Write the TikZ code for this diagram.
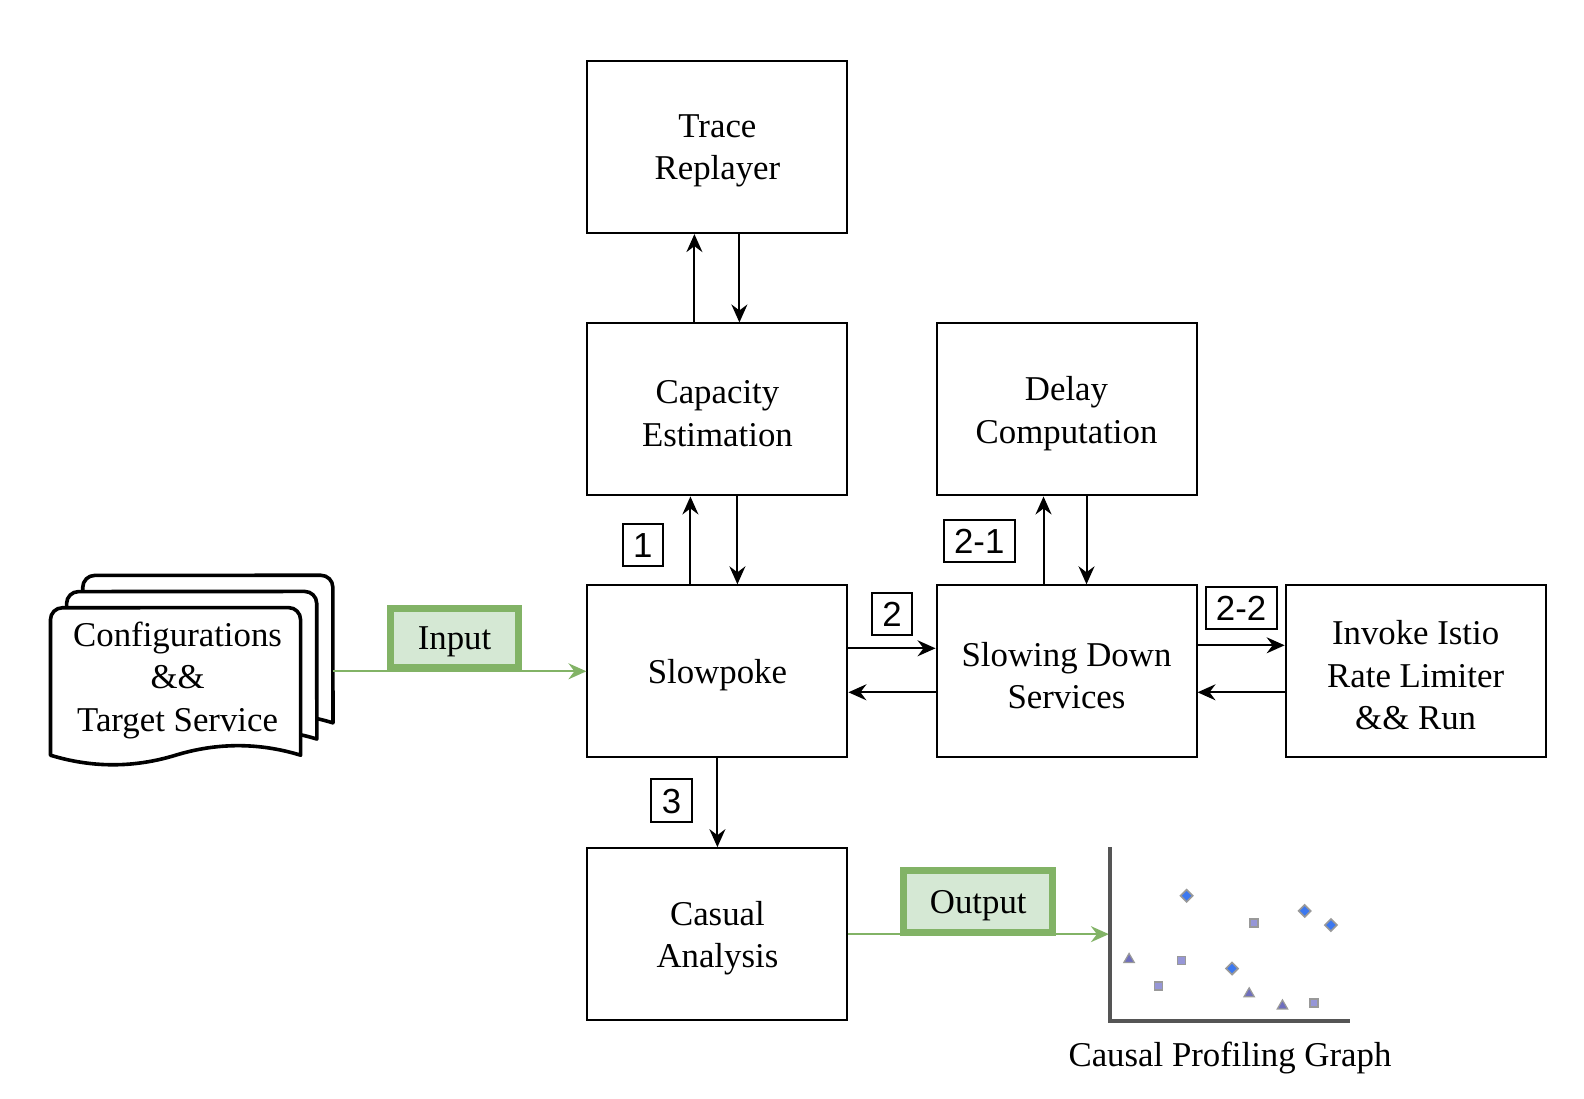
\documentclass[tikz,border=0pt]{standalone}
\usepackage{fontspec}
\setmainfont{Liberation Serif}
\newfontfamily\labelfont{Liberation Sans}
\usetikzlibrary{arrows.meta,shapes.geometric}
\definecolor{gline}{HTML}{82B366}
\definecolor{gfill}{HTML}{D5E8D4}
\definecolor{axisgray}{HTML}{555555}
\definecolor{dblue}{RGB}{60,120,240}
\definecolor{sqfill}{RGB}{150,150,215}
\definecolor{trfill}{RGB}{110,110,190}
\begin{document}
\begin{tikzpicture}[x=0.5045pt,y=-0.5055pt,
  box/.style={draw=black, line width=1pt, minimum width=130pt, minimum height=86pt, inner sep=0pt},
  txt/.style={align=center, inner sep=0pt, font=\fontsize{17.4}{21.2}\selectfont, yshift=-2pt},
  lbl/.style={draw=black, line width=1pt, font=\labelfont\fontsize{17.4}{20}\selectfont,
    inner xsep=5.2pt, inner ysep=4.4pt, text height=12.5pt, text depth=0pt},
  arr/.style={-{Stealth[length=9pt,width=8pt,inset=3pt]}, line width=1pt},
  garr/.style={-{Stealth[length=9pt,width=8pt,inset=3pt]}, line width=1pt, draw=gline, color=gline},
  gbox/.style={draw=gline, fill=gfill, line width=3.5pt, inner sep=0pt,
    text height=12pt, text depth=0pt, font=\fontsize{17.4}{21.2}\selectfont},
  docpage/.style={draw=black, fill=white, line width=1.8pt, line join=round},
  axisline/.style={draw=axisgray, line width=2pt},
  dmark/.style={diamond, draw=gray!80, fill=dblue, line width=0.8pt, inner sep=0pt, minimum size=6.4pt},
  smark/.style={rectangle, draw=gray!80, fill=sqfill, line width=0.8pt, inner sep=0pt, minimum size=4pt},
  tmark/.style={regular polygon, regular polygon sides=3, draw=gray!80, fill=trfill, line width=0.6pt, inner sep=0pt, minimum size=6pt}
]
\useasboundingbox (0pt,0pt) rectangle (792pt,-549pt);

% document stack
\foreach \s in {32,16,0}{
  \path[docpage, shift={(\s,-\s)}] (50,747) -- (50,613) arc[start angle=180,end angle=90,radius=6pt]
    -- (286,601) arc[start angle=90,end angle=0,radius=6pt] -- (298,747)
    .. controls (256.7,734.4) and (215.3,734.4) .. (174,747)
    .. controls (132.7,759.6) and (91.3,759.6) .. (50,747) -- cycle;
}
\node[txt] (docs) at (176,669) {Configurations\\\&\&\\Target Service};
\coordinate (docR) at (330,664);

% main boxes
\node[box] (trace) at (711,145.5) {};
\node[box] (cap) at (711,405) {};
\node[box] (delay) at (1057,405) {};
\node[box] (slow) at (711,664) {};
\node[box] (sds) at (1057,664) {};
\node[box] (inv) at (1403,664) {};
\node[box] (cas) at (711,924) {};
\node[txt] (traceT) at (trace.center) {Trace\\Replayer};
\node[txt] (capT) at (cap.center) {Capacity\\Estimation};
\node[txt] (delayT) at (delay.center) {Delay\\Computation};
\node[txt] (slowT) at (slow.center) {Slowpoke};
\node[txt] (sdsT) at (sds.center) {Slowing Down\\Services};
\node[txt] (invT) at (inv.center) {Invoke Istio\\Rate Limiter\\\&\& Run};
\node[txt] (casT) at (cas.center) {Casual\\Analysis};

% arrows
\draw[arr] ([xshift=-11.5pt]cap.north) -- ([xshift=-11.5pt]trace.south);
\draw[arr] ([xshift=11pt]trace.south) -- ([xshift=11pt]cap.north);
\draw[arr] ([xshift=-13.5pt]slow.north) -- ([xshift=-13.5pt]cap.south);
\draw[arr] ([xshift=10pt]cap.south) -- ([xshift=10pt]slow.north);
\draw[arr] ([xshift=-11.5pt]sds.north) -- ([xshift=-11.5pt]delay.south);
\draw[arr] ([xshift=10pt]delay.south) -- ([xshift=10pt]sds.north);
\draw[arr] ([yshift=11.5pt]slow.east) -- ([yshift=11.5pt]sds.west);
\draw[arr] ([yshift=-10.5pt]sds.west) -- ([yshift=-10.5pt]slow.east);
\draw[arr] ([yshift=13pt]sds.east) -- ([yshift=13pt]inv.west);
\draw[arr] ([yshift=-10.5pt]inv.west) -- ([yshift=-10.5pt]sds.east);
\draw[arr] (slow.south) -- (cas.north);

% step labels
\node[lbl] (l1) at (637,539) {1};
\node[lbl] (l21) at (970.5,535) {2-1};
\node[lbl] (l2) at (884,607.5) {2};
\node[lbl] (l22) at (1230,601.5) {2-2};
\node[lbl] (l3) at (665.5,792) {3};

% input / output
\draw[garr] (docR) -- (slow.west);
\node[gbox, minimum width=63.6pt, minimum height=29.8pt] (inp) at (450.5,631) {Input};

\coordinate (chartY) at (1099,924);
\draw[garr] (cas.east) -- (chartY);
\node[gbox, minimum width=74.7pt, minimum height=31.3pt] (outp) at (969.5,891.5) {Output};

% chart
\draw[axisline] (1100,838) -- (1100,1010) -- (1338,1010);
\node[dmark] (p1) at (1176,886) {};
\node[dmark] (p2) at (1293,901) {};
\node[dmark] (p3) at (1319,915) {};
\node[smark] (p4) at (1243,913) {};
\node[tmark] (p5) at (1119,949) {};
\node[smark] (p6) at (1171,950) {};
\node[dmark] (p7) at (1221,958) {};
\node[smark] (p8) at (1148,975) {};
\node[tmark] (p9) at (1238,983) {};
\node[tmark] (p10) at (1271,995) {};
\node[smark] (p11) at (1302,992) {};

\node[txt] (cpg) at (1219,1043) {Causal Profiling Graph};
\end{tikzpicture}
\end{document}
